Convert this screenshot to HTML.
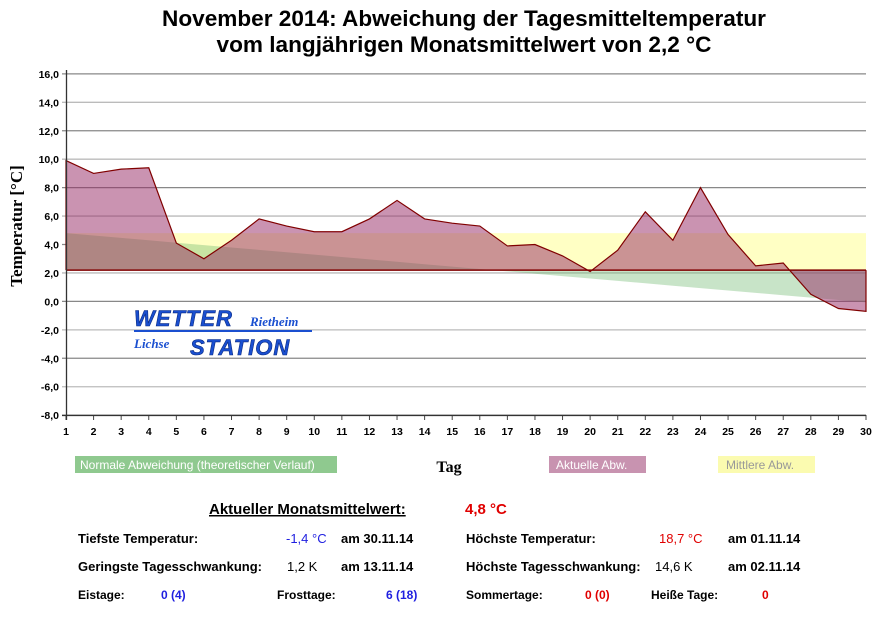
<!DOCTYPE html>
<html><head><meta charset="utf-8"><style>
body{margin:0;background:#fff;width:882px;height:612px;overflow:hidden;font-family:"Liberation Sans",Arial,sans-serif}
</style></head><body>
<svg width="882" height="612" xmlns="http://www.w3.org/2000/svg" font-family="Liberation Sans, Arial, sans-serif">
<rect width="882" height="612" fill="#fff"/>
<text x="464" y="26" font-size="22.6" font-weight="bold" text-anchor="middle">November 2014: Abweichung der Tagesmitteltemperatur</text>
<text x="464" y="52" font-size="22.6" font-weight="bold" text-anchor="middle">vom langjährigen Monatsmittelwert von 2,2 °C</text>
<g id="grid"></g>
<g id="plot"></g>
<text transform="translate(22,226) rotate(-90)" font-family="Liberation Serif, serif" font-size="17" font-weight="bold" text-anchor="middle">Temperatur [°C]</text>
<text x="449" y="472" font-family="Liberation Serif, serif" font-size="16" font-weight="bold" text-anchor="middle">Tag</text>
<!-- legend -->
<rect x="75" y="456" width="262" height="17" fill="#8fc98f"/>
<text x="80" y="469" font-size="12" fill="#fff">Normale Abweichung (theoretischer Verlauf)</text>
<rect x="549" y="456" width="97" height="17" fill="#c893b0"/>
<text x="556" y="469" font-size="12" fill="#fff">Aktuelle Abw.</text>
<rect x="718" y="456" width="97" height="17" fill="#fbfbb0"/>
<text x="726" y="469" font-size="12" fill="#999">Mittlere Abw.</text>
<!-- logo -->
<g font-style="italic" font-weight="bold">
<text x="134" y="326" font-size="22" fill="#1a4fd0" stroke="#0a2a80" stroke-width="0.6" letter-spacing="1">WETTER</text>
<text x="250" y="326" font-family="Liberation Serif, serif" font-size="13" fill="#1a4fd0">Rietheim</text>
<rect x="134" y="330" width="178" height="2" fill="#1a4fd0"/>
<text x="134" y="348" font-family="Liberation Serif, serif" font-size="13" fill="#1a4fd0">Lichse</text>
<text x="190" y="355" font-size="22" fill="#1a4fd0" stroke="#0a2a80" stroke-width="0.6" letter-spacing="1">STATION</text>
</g>
<!-- stats -->
<g font-size="13" font-weight="bold">
<text x="209" y="514" font-size="15" text-decoration="underline">Aktueller Monatsmittelwert:</text>
<text x="465" y="514" font-size="15" fill="#e00000">4,8 °C</text>
<text x="78" y="543">Tiefste Temperatur:</text>
<text x="286" y="543" fill="#2020e0" font-weight="normal">-1,4 °C</text>
<text x="341" y="543">am 30.11.14</text>
<text x="466" y="543">Höchste Temperatur:</text>
<text x="659" y="543" fill="#e00000" font-weight="normal">18,7 °C</text>
<text x="728" y="543">am 01.11.14</text>
<text x="78" y="571">Geringste Tagesschwankung:</text>
<text x="287" y="571" font-weight="normal">1,2 K</text>
<text x="341" y="571">am 13.11.14</text>
<text x="466" y="571">Höchste Tagesschwankung:</text>
<text x="655" y="571" font-weight="normal">14,6 K</text>
<text x="728" y="571">am 02.11.14</text>
<g font-size="12">
<text x="78" y="599">Eistage:</text>
<text x="161" y="599" fill="#2020e0">0 (4)</text>
<text x="277" y="599">Frosttage:</text>
<text x="386" y="599" fill="#2020e0">6 (18)</text>
<text x="466" y="599">Sommertage:</text>
<text x="585" y="599" fill="#e00000">0 (0)</text>
<text x="651" y="599">Heiße Tage:</text>
<text x="762" y="599" fill="#e00000">0</text>
</g>
</g>
</svg>
<script>
var ns="http://www.w3.org/2000/svg";
function Y(v){return 301.4-v*14.22}
function X(d){return 66+(d-1)*27.586}
var g=document.getElementById('grid'),p=document.getElementById('plot');
function el(par,t,a){var e=document.createElementNS(ns,t);for(var k in a)e.setAttribute(k,a[k]);par.appendChild(e);return e}
for(var v=-8;v<=16;v+=2){var y=Y(v);
el(g,'line',{x1:62,x2:866,y1:y,y2:y,stroke:(v/2)%2?'#bbb':'#888','stroke-width':1.3});
var t=el(g,'text',{x:59,y:y+4,'font-size':10.5,'font-weight':'bold','text-anchor':'end'});t.textContent=v.toFixed(1).replace('.',',');}
for(var d=1;d<=30;d++){var x=X(d);el(g,'line',{x1:x,x2:x,y1:415,y2:420,stroke:'#444'});
var t=el(g,'text',{x:x,y:435,'font-size':10.5,'font-weight':'bold','text-anchor':'middle'});t.textContent=d;}
var vals=[9.9,9.0,9.3,9.4,4.1,3.0,4.3,5.8,5.3,4.9,4.9,5.8,7.1,5.8,5.5,5.3,3.9,4.0,3.2,2.1,3.6,6.3,4.3,8.0,4.7,2.5,2.7,0.5,-0.5,-0.7];
var b=Y(2.2);
el(p,'rect',{x:X(1),y:Y(4.8),width:X(30)-X(1),height:b-Y(4.8),fill:'#ffffc4'});
var gp='M'+X(1)+','+b;for(d=1;d<=30;d++)gp+=' L'+X(d)+','+Y(4.8-(d-1)*0.168);gp+=' L'+X(30)+','+b+'Z';
el(p,'path',{d:gp,fill:'rgba(110,185,110,0.38)'});
var pp='M'+X(1)+','+b;for(d=1;d<=30;d++)pp+=' L'+X(d)+','+Y(vals[d-1]);pp+=' L'+X(30)+','+b+'Z';
el(p,'path',{d:pp,fill:'rgba(150,40,100,0.5)'});
var pl='M'+X(1)+','+b;for(d=1;d<=30;d++)pl+=' L'+X(d)+','+Y(vals[d-1]);pl+=' L'+X(30)+','+b;
el(p,'path',{d:pl,fill:'none',stroke:'#800000','stroke-width':1.2});
el(p,'line',{x1:X(1),x2:X(30),y1:b,y2:b,stroke:'#800000','stroke-width':1.5});
el(p,'line',{x1:66.5,x2:66.5,y1:70,y2:420,stroke:'#333','stroke-width':1.3});
el(p,'line',{x1:62,x2:866,y1:415.5,y2:415.5,stroke:'#333','stroke-width':1.3});
</script>
</body></html>
